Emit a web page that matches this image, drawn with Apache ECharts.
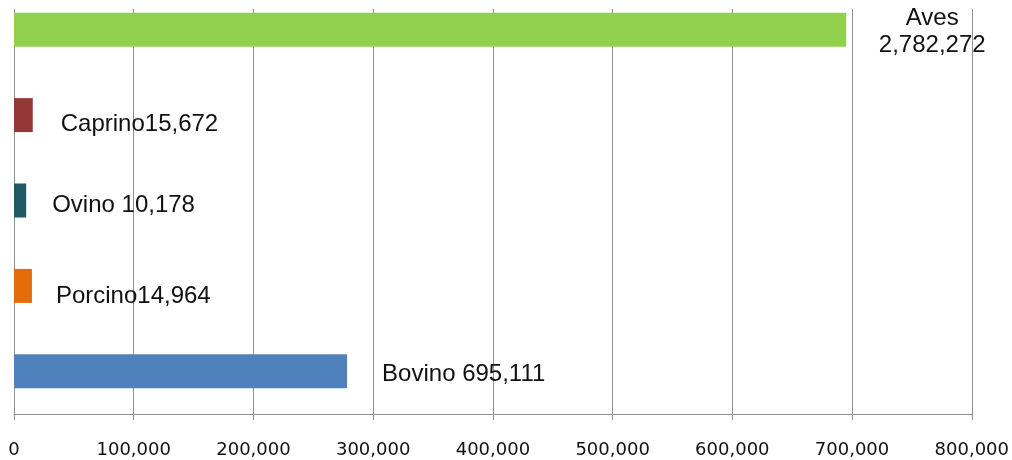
<!DOCTYPE html>
<html>
<head>
<meta charset="utf-8">
<script src="https://cdn.jsdelivr.net/npm/echarts@6/dist/echarts.min.js"></script>
<style>
  html, body { margin: 0; padding: 0; background: #ffffff; overflow: hidden; }
  /* the plot band runs slightly above the visible page edge */
  #chart { width: 1012px; height: 473px; position: relative; top: -13px; }
</style>
</head>
<body>
<div id="chart"></div>
<script>
// Livestock categories, listed bottom to top
const categories = ['Bovino', 'Porcino', 'Ovino', 'Caprino', 'Aves'];
// Length of each bar on the axis
const barLengths = [278227, 14964, 10178, 15672, 695111];
// Head counts written in the data labels
const headcounts = [695111, 14964, 10178, 15672, 2782272];
// Separator between name and figure in each label
const labelJoins = [' ', '', ' ', '', '\n'];
const barColors = ['#4F81BD', '#E46C0A', '#215967', '#953735', '#92D050'];
// Axis ticks
const axisMin = 0;
const axisMax = 800000;
const axisStep = 100000;

// Placement of each data label relative to its bar end
const labelPlacement = [
  { distance: 35, dy: 3, align: 'left' },
  { distance: 24, dy: 10, align: 'left' },
  { distance: 26, dy: 5, align: 'left' },
  { distance: 28, dy: 9, align: 'left' },
  { distance: 86, dy: 2, align: 'center' }
];

const fmt = n => n.toLocaleString('en-US');
const gridColor = '#8f8f8f';

const chart = echarts.init(document.getElementById('chart'), null, { renderer: 'canvas' });

chart.setOption({
  animation: false,
  backgroundColor: '#ffffff',
  grid: { left: 14, right: 40, top: 0, bottom: 46, containLabel: false },
  xAxis: {
    type: 'value',
    min: axisMin,
    max: axisMax,
    interval: axisStep,
    axisLine: { show: true, lineStyle: { color: gridColor, width: 1 } },
    axisTick: { show: true, length: 6, lineStyle: { color: gridColor } },
    splitLine: { show: true, lineStyle: { color: gridColor, width: 1 } },
    axisLabel: {
      margin: 27,
      color: '#111111',
      fontFamily: 'DejaVu Sans',
      fontSize: 18,
      formatter: v => fmt(v)
    }
  },
  yAxis: {
    type: 'category',
    data: categories,
    axisLine: { show: true, lineStyle: { color: gridColor, width: 1 } },
    axisTick: { show: false },
    axisLabel: { show: false },
    splitLine: { show: false }
  },
  graphic: [{
    type: 'rect',
    z: 1,
    shape: { x: 0, y: 0, width: 1012, height: 22 },
    style: { fill: '#ffffff' },
    silent: true
  }],
  series: [{
    type: 'bar',
    barWidth: 34,
    z: 2,
    data: barLengths.map((v, i) => ({
      value: v,
      itemStyle: { color: barColors[i] },
      label: {
        show: true,
        position: 'right',
        distance: labelPlacement[i].distance,
        offset: [0, labelPlacement[i].dy],
        align: labelPlacement[i].align,
        lineHeight: 27,
        fontFamily: 'Liberation Sans, Arial, sans-serif',
        fontSize: 24,
        color: '#111111',
        formatter: () => categories[i] + labelJoins[i] + fmt(headcounts[i])
      }
    }))
  }]
});
</script>
</body>
</html>
